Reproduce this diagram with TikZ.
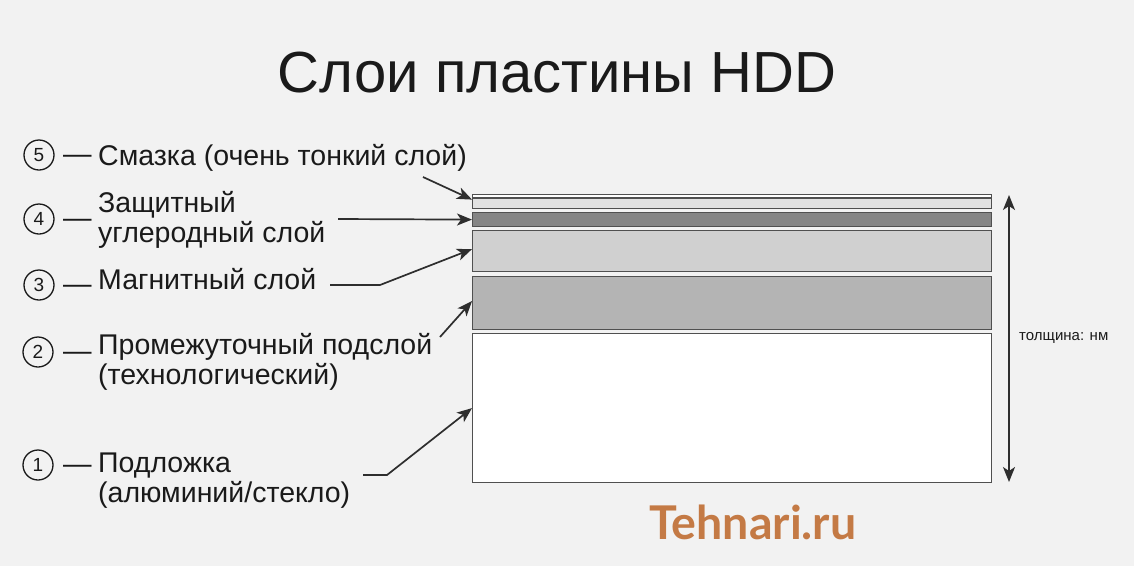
\documentclass[tikz,border=0pt]{standalone}
\usepackage{fontspec}
\setmainfont{Liberation Sans}
\newfontfamily\wmfont{Lato}
\usetikzlibrary{arrows.meta}
\definecolor{bg}{HTML}{F2F2F2}
\definecolor{ink}{HTML}{1A1A1A}
\definecolor{edge}{HTML}{505050}
\definecolor{arr}{HTML}{2E2E2E}
\definecolor{lfive}{HTML}{E2E2E2}
\definecolor{lfour}{HTML}{858585}
\definecolor{lthree}{HTML}{D0D0D0}
\definecolor{ltwo}{HTML}{B4B4B4}
\definecolor{wm}{HTML}{C47A45}
\begin{document}
\begin{tikzpicture}[x=1pt,y=-1pt,
  layer/.style={draw=edge,line width=1.2pt,rectangle,inner sep=0pt,anchor=north west,minimum width=519pt},
  numc/.style={circle,draw=ink,line width=1.3pt,minimum size=30pt,inner sep=0pt,text=ink,font=\fontsize{19}{19}\selectfont},
  lbl/.style={anchor=base west,inner sep=0pt,text=ink,align=left,font=\fontsize{28.5}{30}\selectfont},
  pointer/.style={draw=arr,line width=1.7pt,-{Stealth[length=15pt,width=12pt,inset=4pt]}}]
\fill[bg] (0,0) rectangle (1134,566);
\useasboundingbox (0,0) rectangle (1134,566);
% title
\node[anchor=base,inner sep=0pt,text=ink,font=\fontsize{58}{58}\selectfont] (title) at (557,92) {Слои пластины HDD};
% layers
\node[layer,fill=white,minimum height=3pt] (l5a) at (472,194) {};
\node[layer,fill=lfive,minimum height=10pt] (l5) at (472,198) {};
\node[layer,fill=lfour,minimum height=14pt] (l4) at (472,212) {};
\node[layer,fill=lthree,minimum height=41pt] (l3) at (472,230) {};
\node[layer,fill=ltwo,minimum height=53pt] (l2) at (472,276) {};
\node[layer,fill=white,minimum height=149pt] (l1) at (472,333) {};
% thickness arrow
\coordinate (ttop) at (1009,195);
\coordinate (tbot) at (1009,482);
\draw[draw=arr,line width=1.6pt,{Stealth[length=15pt,width=12pt,inset=4pt]}-{Stealth[length=15pt,width=12pt,inset=4pt]}] (ttop) -- (tbot);
\node[anchor=west,inner sep=0pt,text=ink,font=\fontsize{15}{15}\selectfont] (thick) at (1019,338) {толщина: нм};
% circles
\node[numc] (c5) at (39,155) {5};
\node[numc] (c4) at (39,219) {4};
\node[numc] (c3) at (39,285) {3};
\node[numc] (c2) at (38,352) {2};
\node[numc] (c1) at (38,465) {1};
% dashes
\node[lbl] (d5) at (63,163) {—};
\node[lbl] (d4) at (63,227) {—};
\node[lbl] (d3) at (63,293) {—};
\node[lbl] (d2) at (63,360) {—};
\node[lbl] (d1) at (63,473) {—};
% labels
\node[lbl] (t5) at (98,165) {Смазка (очень тонкий слой)};
\node[lbl] (t4) at (98,242.5) {Защитный\\углеродный слой};
\node[lbl] (t3) at (98,289) {Магнитный слой};
\node[lbl] (t2) at (98,384) {Промежуточный подслой\\(технологический)};
\node[lbl] (t1) at (98,502) {Подложка\\(алюминий/стекло)};
% pointers
\coordinate (s5) at (423,177);
\coordinate (s4) at (338,219);
\coordinate (s3) at (330,285);
\coordinate (k3) at (380,285);
\coordinate (s2) at (440,337);
\coordinate (s1) at (363,475);
\coordinate (k1) at (387,475);
\draw[pointer] (s5) -- ([yshift=4pt]l5.west);
\draw[pointer] (s4) -- (l4.west);
\draw[pointer] (s3) -- (k3) -- ([yshift=2pt]l3.west);
\draw[pointer] (s2) -- ([yshift=2pt]l2.west);
\draw[pointer] (s1) -- (k1) -- (l1.west);
% watermark
\node[anchor=base,inner sep=0pt,text=wm,font=\wmfont\bfseries\fontsize{46.5}{46.5}\selectfont] (wmk) at (753,539) {Tehnari.ru};
\end{tikzpicture}
\end{document}
